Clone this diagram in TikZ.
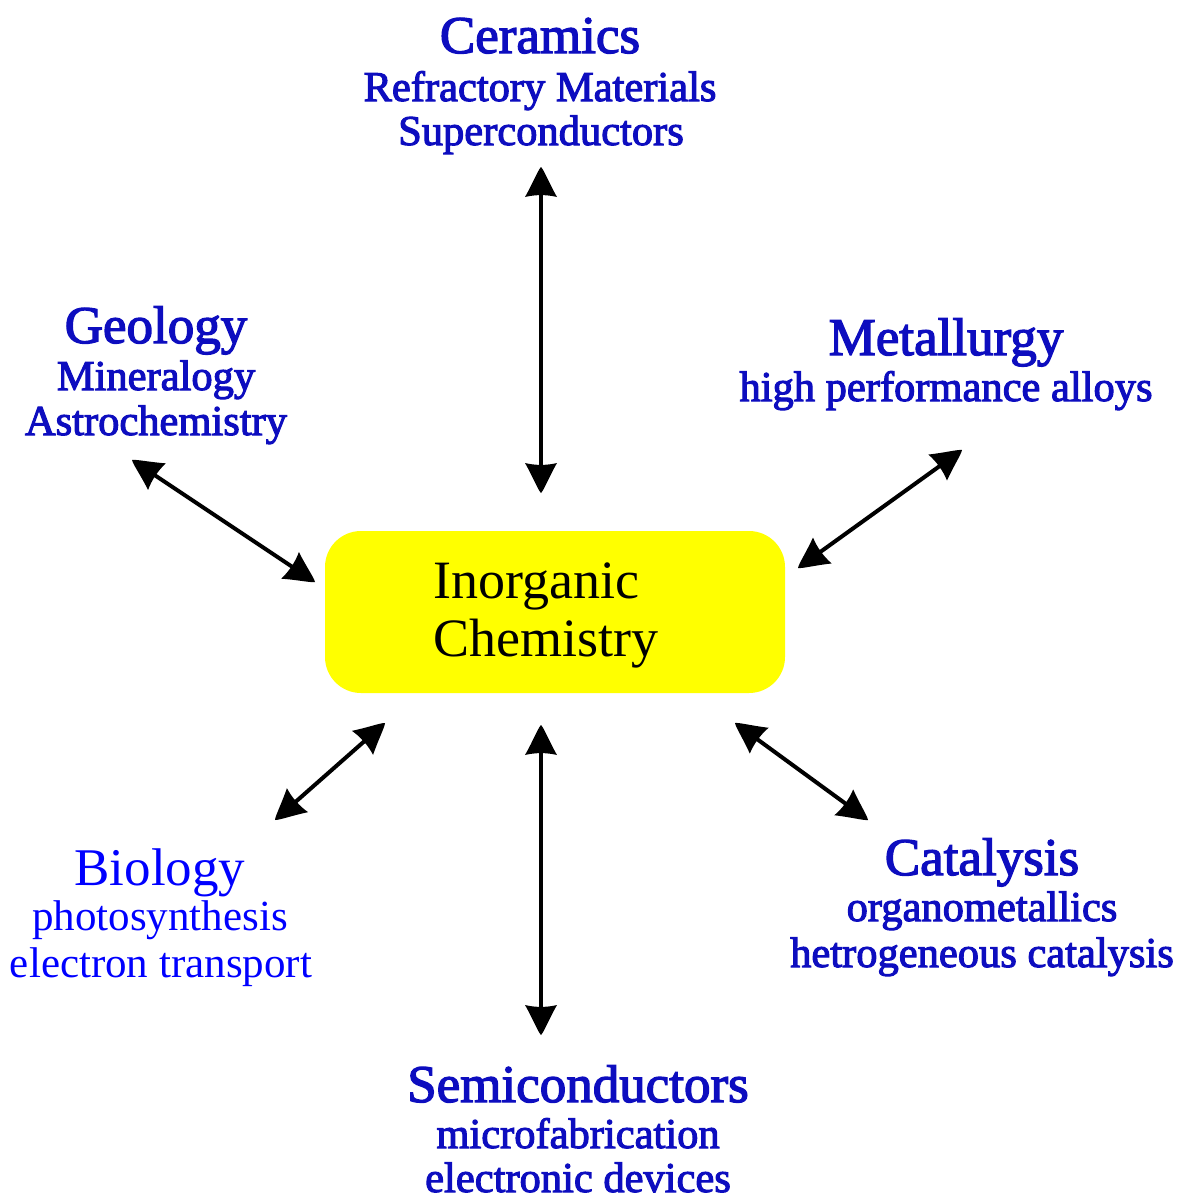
\documentclass[tikz,border=0pt]{standalone}
\usepackage{fontspec}
\setmainfont{Liberation Serif}
\newfontfamily\outfont[FakeBold=2.5]{Liberation Serif}
\usetikzlibrary{arrows.meta}
\definecolor{outblue}{rgb}{0.05,0.05,0.75}
\definecolor{pureblue}{rgb}{0,0,1}
\definecolor{boxyellow}{rgb}{1,1,0}
\pgfdeclarearrow{
  name = Bell,
  setup code = {
    \pgfarrowssettipend{0pt}
    \pgfarrowssetlineend{-18pt}
    \pgfarrowssetbackend{-30pt}
    \pgfarrowssetvisualbackend{-28pt}
    \pgfarrowshullpoint{0pt}{0pt}
    \pgfarrowshullpoint{-30pt}{16pt}
    \pgfarrowshullpoint{-30pt}{-16pt}
  },
  drawing code = {
    \pgfpathmoveto{\pgfpoint{0pt}{0pt}}
    \pgfpathcurveto{\pgfpoint{-3pt}{3pt}}{\pgfpoint{-16pt}{8pt}}{\pgfpoint{-30pt}{16pt}}
    \pgfpathcurveto{\pgfpoint{-27.5pt}{6pt}}{\pgfpoint{-27.5pt}{-6pt}}{\pgfpoint{-30pt}{-16pt}}
    \pgfpathcurveto{\pgfpoint{-16pt}{-8pt}}{\pgfpoint{-3pt}{-3pt}}{\pgfpoint{0pt}{0pt}}
    \pgfpathclose
    \pgfusepathqfill
  }
}
\tikzset{
  ttl/.style={anchor=base, inner sep=0pt, text=outblue, font=\outfont\fontsize{53}{56}\selectfont},
  sub/.style={anchor=base, inner sep=0pt, text=outblue, font=\outfont\fontsize{42.5}{44}\selectfont},
  bttl/.style={anchor=base, inner sep=0pt, text=pureblue, font=\fontsize{53}{56}\selectfont},
  bsub/.style={anchor=base, inner sep=0pt, text=pureblue, font=\fontsize{43}{44}\selectfont},
  ctext/.style={anchor=base west, inner sep=0pt, text=black, font=\fontsize{54}{58}\selectfont},
  conn/.style={line width=4pt, arrows={Bell-Bell}}
}
\begin{document}
\begin{tikzpicture}[x=1pt,y=-1pt]
\useasboundingbox (0,0) rectangle (1180,1200);
% center box
\node[fill=boxyellow, rounded corners=36pt, minimum width=460pt, minimum height=162pt, inner sep=0pt] (ic) at (555,612) {};
\node[ctext] (ic1) at (433,598) {Inorganic};
\node[ctext] (ic2) at (433,656) {Chemistry};
% Ceramics
\node[ttl] (cer) at (540,53) {Ceramics};
\node[sub] (cer1) at (540,101) {Refractory Materials};
\node[sub] (cer2) at (541,145) {Superconductors};
% Geology
\node[ttl] (geo) at (156,343) {Geology};
\node[sub] (geo1) at (156,390) {Mineralogy};
\node[sub] (geo2) at (156,435) {Astrochemistry};
% Metallurgy
\node[ttl] (met) at (946,355) {Metallurgy};
\node[sub] (met1) at (946,401) {high performance alloys};
% Biology
\node[bttl] (bio) at (160,885) {Biology};
\node[bsub] (bio1) at (160,930) {photosynthesis};
\node[bsub] (bio2) at (161,977) {electron transport};
% Catalysis
\node[ttl] (cat) at (982,875) {Catalysis};
\node[sub] (cat1) at (982,921) {organometallics};
\node[sub] (cat2) at (982,967) {hetrogeneous catalysis};
% Semiconductors
\node[ttl] (sem) at (578,1102) {Semiconductors};
\node[sub] (sem1) at (578,1148) {microfabrication};
\node[sub] (sem2) at (578,1192) {electronic devices};
% arrow ends
\coordinate (cerA) at (541,167);
\coordinate (cerB) at (541,493);
\coordinate (geoA) at (132,460);
\coordinate (geoB) at (315,582);
\coordinate (metA) at (962,450);
\coordinate (metB) at (798,568);
\coordinate (bioA) at (275,820);
\coordinate (bioB) at (385,723);
\coordinate (catA) at (868,820);
\coordinate (catB) at (735,723);
\coordinate (semA) at (541,1035);
\coordinate (semB) at (541,725);
\draw[conn] (cerA) -- (cerB);
\draw[conn] (geoA) -- (geoB);
\draw[conn] (metA) -- (metB);
\draw[conn] (bioA) -- (bioB);
\draw[conn] (catA) -- (catB);
\draw[conn] (semA) -- (semB);
\end{tikzpicture}
\end{document}
